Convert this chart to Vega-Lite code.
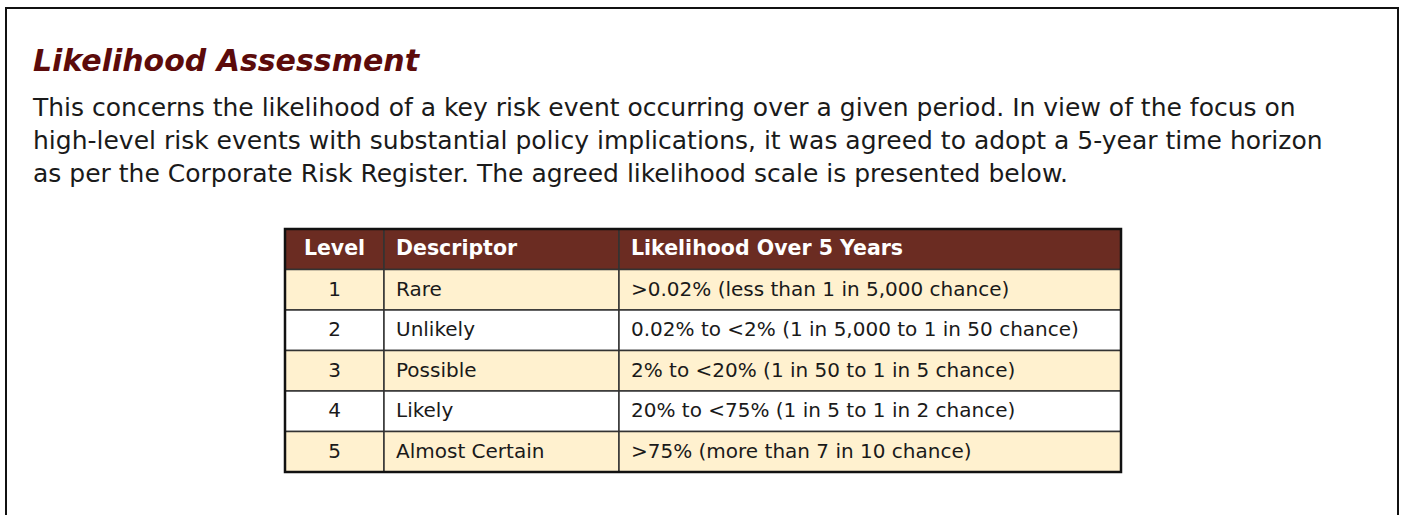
{
  "$schema": "https://vega.github.io/schema/vega-lite/v6.json",
  "width": 1392,
  "height": 509,
  "autosize": {"type": "none"},
  "padding": {"left": 6, "top": 8, "right": 5, "bottom": -2},
  "background": "#ffffff",
  "config": {"view": {"stroke": "#111111", "strokeWidth": 2}, "font": "DejaVu Sans"},
  "title": {
    "text": "Likelihood Assessment",
    "subtitle": [
      "This concerns the likelihood of a key risk event occurring over a given period. In view of the focus on",
      "high-level risk events with substantial policy implications, it was agreed to adopt a 5-year time horizon",
      "as per the Corporate Risk Register. The agreed likelihood scale is presented below."
    ],
    "anchor": "start",
    "frame": "group",
    "orient": "top",
    "offset": -179,
    "dx": 27,
    "font": "DejaVu Sans",
    "fontSize": 30,
    "fontWeight": "bold",
    "fontStyle": "italic",
    "color": "#5c0b0b",
    "subtitleFont": "DejaVu Sans",
    "subtitleFontSize": 25,
    "subtitleColor": "#1a1a1a",
    "subtitleLineHeight": 33,
    "subtitlePadding": 19
  },
  "data": {
    "values": [
      {"row": 0, "level": "Level", "descriptor": "Descriptor", "likelihood": "Likelihood Over 5 Years"},
      {"row": 1, "level": "1", "descriptor": "Rare", "likelihood": ">0.02% (less than 1 in 5,000 chance)"},
      {"row": 2, "level": "2", "descriptor": "Unlikely", "likelihood": "0.02% to <2% (1 in 5,000 to 1 in 50 chance)"},
      {"row": 3, "level": "3", "descriptor": "Possible", "likelihood": "2% to <20% (1 in 50 to 1 in 5 chance)"},
      {"row": 4, "level": "4", "descriptor": "Likely", "likelihood": "20% to <75% (1 in 5 to 1 in 2 chance)"},
      {"row": 5, "level": "5", "descriptor": "Almost Certain", "likelihood": ">75% (more than 7 in 10 chance)"}
    ]
  },
  "encoding": {
    "y": {"field": "row", "type": "ordinal", "scale": {"range": [221, 464], "paddingInner": 0, "paddingOuter": 0}, "axis": null}
  },
  "layer": [
    {
      "mark": {"type": "rect", "stroke": "#333333", "strokeWidth": 1.5},
      "encoding": {
        "x": {"datum": 0, "type": "quantitative", "scale": {"domain": [0, 1, 2, 3], "range": [279, 378, 613, 1115]}, "axis": null},
        "x2": {"datum": 1},
        "fill": {"condition": [{"test": "datum.row == 0", "value": "#6b2c22"}, {"test": "datum.row % 2 == 1", "value": "#fff1cf"}], "value": "#ffffff"}
      }
    },
    {
      "mark": {"type": "rect", "stroke": "#333333", "strokeWidth": 1.5},
      "encoding": {
        "x": {"datum": 1, "type": "quantitative"},
        "x2": {"datum": 2},
        "fill": {"condition": [{"test": "datum.row == 0", "value": "#6b2c22"}, {"test": "datum.row % 2 == 1", "value": "#fff1cf"}], "value": "#ffffff"}
      }
    },
    {
      "mark": {"type": "rect", "stroke": "#333333", "strokeWidth": 1.5},
      "encoding": {
        "x": {"datum": 2, "type": "quantitative"},
        "x2": {"datum": 3},
        "fill": {"condition": [{"test": "datum.row == 0", "value": "#6b2c22"}, {"test": "datum.row % 2 == 1", "value": "#fff1cf"}], "value": "#ffffff"}
      }
    },
    {
      "transform": [{"filter": "datum.row == 0"}],
      "mark": {"type": "rect", "fill": null, "stroke": "#111111", "strokeWidth": 2.5, "yOffset": -20.25, "y2Offset": 222.75},
      "encoding": {
        "x": {"datum": 0, "type": "quantitative"},
        "x2": {"datum": 3},
        "y2": {"field": "row"}
      }
    },
    {
      "transform": [{"filter": "datum.row == 0"}],
      "mark": {"type": "text", "align": "center", "baseline": "middle", "fontSize": 20.5, "fontWeight": "bold", "color": "#ffffff"},
      "encoding": {"x": {"datum": 0.5, "type": "quantitative"}, "text": {"field": "level"}}
    },
    {
      "transform": [{"filter": "datum.row == 0"}],
      "mark": {"type": "text", "align": "left", "baseline": "middle", "dx": 12, "fontSize": 20.5, "fontWeight": "bold", "color": "#ffffff"},
      "encoding": {"x": {"datum": 1, "type": "quantitative"}, "text": {"field": "descriptor"}}
    },
    {
      "transform": [{"filter": "datum.row == 0"}],
      "mark": {"type": "text", "align": "left", "baseline": "middle", "dx": 12, "fontSize": 20.5, "fontWeight": "bold", "color": "#ffffff"},
      "encoding": {"x": {"datum": 2, "type": "quantitative"}, "text": {"field": "likelihood"}}
    },
    {
      "transform": [{"filter": "datum.row > 0"}],
      "mark": {"type": "text", "align": "center", "baseline": "middle", "fontSize": 20, "color": "#1a1a1a"},
      "encoding": {"x": {"datum": 0.5, "type": "quantitative"}, "text": {"field": "level"}}
    },
    {
      "transform": [{"filter": "datum.row > 0"}],
      "mark": {"type": "text", "align": "left", "baseline": "middle", "dx": 12, "fontSize": 20, "color": "#1a1a1a"},
      "encoding": {"x": {"datum": 1, "type": "quantitative"}, "text": {"field": "descriptor"}}
    },
    {
      "transform": [{"filter": "datum.row > 0"}],
      "mark": {"type": "text", "align": "left", "baseline": "middle", "dx": 12, "fontSize": 20, "color": "#1a1a1a"},
      "encoding": {"x": {"datum": 2, "type": "quantitative"}, "text": {"field": "likelihood"}}
    }
  ]
}
